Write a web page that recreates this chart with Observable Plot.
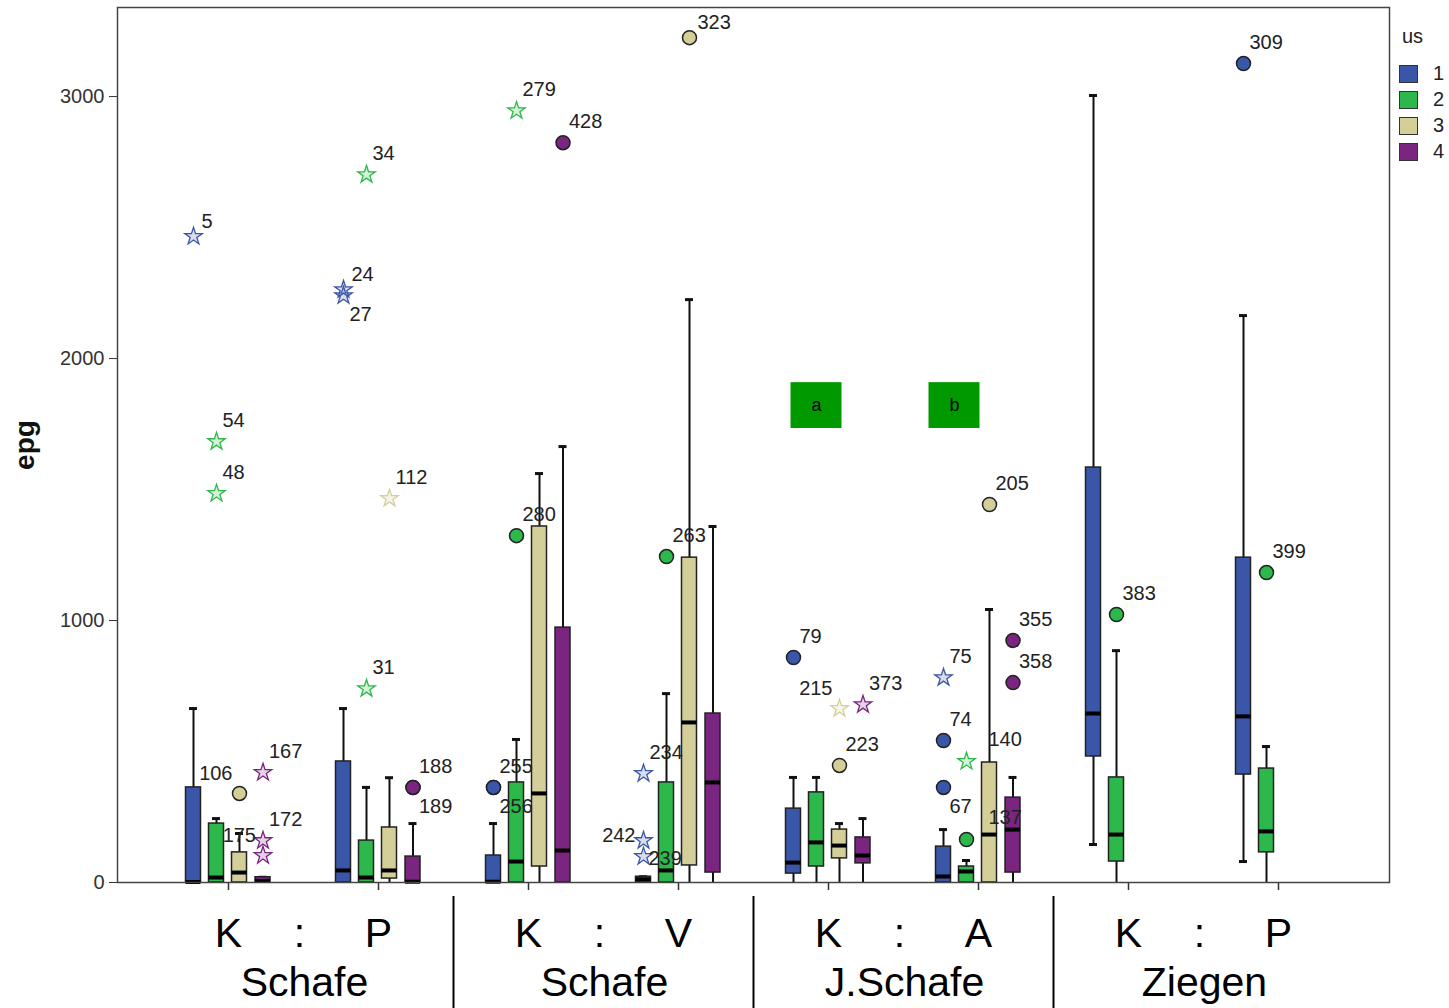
<!DOCTYPE html>
<html>
<head>
<meta charset="utf-8">
<script src="https://cdn.jsdelivr.net/npm/d3@7"></script>
<script src="https://cdn.jsdelivr.net/npm/@observablehq/plot@0.6"></script>
<style>
  body { margin: 0; background: #fff; font-family: Arial, "Liberation Sans", sans-serif; }
  #wrap { position: relative; width: 1449px; height: 1008px; }
  #legend { position: absolute; left: 1396px; top: 22px; color: #222; font-size: 20px; }
  #legend .title { position: absolute; left: 6px; top: 0; line-height: 28px; }
  #legend .item { position: absolute; left: 3px; width: 60px; height: 20px; }
  #legend .sw { position: absolute; left: 0; top: 0; width: 17px; height: 16px; border: 1.5px solid #333; }
  #legend .lb { position: absolute; left: 34px; top: -3px; line-height: 22px; }
</style>
</head>
<body>
<div id="wrap"></div>
<script>
// ---------- data ----------
const categories = ["S1-K", "S1-P", "S2-K", "S2-V", "J-K", "J-A", "Z-K", "Z-P"];
const categoryLabels = ["K", "P", "K", "V", "K", "A", "K", "P"];
const groupFirst = ["S1-K", "S2-K", "J-K", "Z-K"];
const groupNames = ["Schafe", "Schafe", "J.Schafe", "Ziegen"];
const separatorAfter = ["S1-P", "S2-V", "J-A"];
const usLevels = [1, 2, 3, 4];
const usColors = ["#3A56A8", "#2DB84B", "#D4CF98", "#7A2580"];
const yTicks = [0, 1000, 2000, 3000];

// box statistics (epg)
const boxCat = ["S1-K","S1-K","S1-K","S1-K","S1-P","S1-P","S1-P","S1-P",
                "S2-K","S2-K","S2-K","S2-K","S2-V","S2-V","S2-V","S2-V",
                "J-K","J-K","J-K","J-K","J-A","J-A","J-A","J-A",
                "Z-K","Z-K","Z-P","Z-P"];
const boxUs  = [1,2,3,4, 1,2,3,4, 1,2,3,4, 1,2,3,4, 1,2,3,4, 1,2,3,4, 1,2, 1,2];
const boxLow = [0,0,0,0, 0,0,0,0, 0,0,0,0, 0,0,0,0, 0,0,0,0, 0,0,0,0, 145,0, 80,0];
const boxQ1  = [0,0,0,0, 0,0,15,0, 0,0,61,0, 0,0,65,38, 34,61,92,73, 0,0,0,38, 481,80, 412,115];
const boxMed = [2,19,38,6, 46,19,46,3, 3,80,340,122, 12,46,611,382, 76,153,141,103, 23,42,183,202, 645,183, 634,195];
const boxQ3  = [363,225,115,20, 462,160,210,99, 103,382,1359,973, 22,382,1240,645, 282,344,202,172, 137,61,458,324, 1584,401, 1240,435];
const boxHigh= [664,244,187,20, 664,363,400,225, 225,546,1561,1664, 22,721,2225,1359, 401,401,225,244, 202,84,1042,401, 3004,885, 2164,519];

// outliers: "o" = outlier circle, "*" = extreme star
const outCat = ["S1-K","S1-K","S1-K","S1-K","S1-K","S1-K","S1-K",
                "S1-P","S1-P","S1-P","S1-P","S1-P","S1-P","S1-P",
                "S2-K","S2-K","S2-K","S2-K","S2-K",
                "S2-V","S2-V","S2-V","S2-V","S2-V",
                "J-K","J-K","J-K","J-K",
                "J-A","J-A","J-A","J-A","J-A","J-A","J-A","J-A",
                "Z-K","Z-P","Z-P"];
const outUs  = [1,2,2,3,4,4,4, 1,1,2,2,3,4,4, 1,1,2,2,4, 1,1,1,2,3, 1,3,3,4, 1,1,1,2,2,3,4,4, 2,1,2];
const outValue = [2466,1683,1485,340,420,160,103, 2263,2240,2702,740,1466,363,363,
                  363,363,1324,2946,2824, 416,160,99,1244,3225, 859,664,447,679,
                  782,542,363,462,164,1443,924,763, 1023,3126,1183];
const outId  = [5,54,48,106,167,172,175, 24,27,34,31,112,188,189, 255,256,280,279,428,
                234,242,239,263,323, 79,215,223,373, 75,74,67,140,137,205,355,358, 383,309,399];
const outKind = ["*","*","*","o","*","*","*", "*","*","*","*","*","o","o", "o","o","o","*","o",
                 "*","*","*","o","o", "o","*","o","*", "*","o","o","*","o","o","o","o", "o","o","o"];

// significance tags
const tagText = ["a", "b"];
const tagCat = ["J-K", "J-A"];
const tagLow = [1733, 1733];
const tagHigh = [1908, 1908];

// ---------- tables ----------
const boxes = boxCat.map((c, i) => ({cat: c, us: boxUs[i], lo: boxLow[i], q1: boxQ1[i], med: boxMed[i], q3: boxQ3[i], hi: boxHigh[i]}));
const outliers = outCat.map((c, i) => ({cat: c, us: outUs[i], value: outValue[i], id: outId[i], kind: outKind[i]}));
const tags = tagText.map((t, i) => ({text: t, cat: tagCat[i], lo: tagLow[i], hi: tagHigh[i], mid: (tagLow[i] + tagHigh[i]) / 2}));

// ---------- layout / style ----------
const usOffset = {1: -35, 2: -12, 3: 11, 4: 34.5};
const tagOffset = {"a": -12, "b": -24};
const half = 75;          // half of the category step
const boxInset = 67.5;    // -> 15px wide boxes
const capInset = 71;      // -> 8px wide whisker caps
const labelFont = 20;

const placements = [
  {ids: [106, 175, 215], dx: -7, dy: -20, anchor: "end"},
  {ids: [242], dx: -8, dy: -5, anchor: "end"},
  {ids: [27, 189, 256, 67], dx: 6, dy: 19, anchor: "start"},
  {ids: [239], dx: 5, dy: 2, anchor: "start"},
  {ids: [140, 137], dx: 22, dy: -22, anchor: "start"},
  {ids: [5, 24, 323], dx: 8, dy: -15, anchor: "start"}
];
const special = new Set(placements.flatMap(p => p.ids));
placements.push({ids: outId.filter(id => !special.has(id)), dx: 6, dy: -21, anchor: "start"});

const marks = [];

// bottom ticks
marks.push(Plot.ruleX(categories, {x: d => d, insetTop: 875, insetBottom: -8, stroke: "#333", strokeWidth: 1.5}));

usLevels.forEach((u, k) => {
  const o = usOffset[u];
  const col = usColors[k];
  const b = boxes.filter(d => d.us === u);
  marks.push(Plot.ruleX(b, {x: "cat", y1: "lo", y2: "hi", dx: o, stroke: "#111", strokeWidth: 2}));
  marks.push(Plot.tickY(b, {x: "cat", y: "hi", dx: o, insetLeft: capInset, insetRight: capInset, stroke: "#111", strokeWidth: 3}));
  marks.push(Plot.tickY(b.filter(d => d.lo > 0), {x: "cat", y: "lo", dx: o, insetLeft: capInset, insetRight: capInset, stroke: "#111", strokeWidth: 3}));
  marks.push(Plot.barY(b, {x: "cat", y1: "q1", y2: "q3", dx: o, insetLeft: boxInset, insetRight: boxInset, fill: col, stroke: "#222", strokeWidth: 1.5}));
  marks.push(Plot.tickY(b, {x: "cat", y: "med", dx: o, insetLeft: boxInset, insetRight: boxInset, stroke: "#000", strokeWidth: 4}));
});

usLevels.forEach((u, k) => {
  const o = usOffset[u];
  const col = usColors[k];
  const pts = outliers.filter(d => d.us === u);
  marks.push(Plot.dot(pts.filter(d => d.kind === "o"), {x: "cat", y: "value", dx: o, r: 7, fill: col, stroke: "#222", strokeWidth: 1.5}));
  marks.push(Plot.dot(pts.filter(d => d.kind === "*"), {x: "cat", y: "value", dx: o, r: 5.5, symbol: "star", fill: col, fillOpacity: 0.2, stroke: col, strokeWidth: 1.3}));
  placements.forEach(p => {
    const sel = pts.filter(d => p.ids.includes(d.id));
    if (sel.length) marks.push(Plot.text(sel, {x: "cat", y: "value", text: d => String(d.id), dx: o + p.dx, dy: p.dy, textAnchor: p.anchor, fontSize: labelFont, fill: "#222"}));
  });
});

// significance tags
tags.forEach(t => {
  marks.push(Plot.barY([t], {x: "cat", y1: "lo", y2: "hi", dx: tagOffset[t.text], insetLeft: 49.5, insetRight: 49.5, fill: "#009A00"}));
  marks.push(Plot.text([t], {x: "cat", y: "mid", text: "text", dx: tagOffset[t.text], fontSize: 18, fill: "#000"}));
});

marks.push(Plot.frame({stroke: "#444", strokeWidth: 1.5}));
marks.push(Plot.axisY({ticks: yTicks, tickSize: 8, tickPadding: 5, tickFormat: d => String(d), fontSize: 20, label: null, stroke: "#333", color: "#333"}));
marks.push(Plot.text(["epg"], {frameAnchor: "left", dx: -92, rotate: -90, textAnchor: "middle", text: d => d, fontWeight: "bold", fontSize: 28, fill: "#111"}));

// category labels, separators and group names below the axis
marks.push(Plot.text(categories, {x: d => d, text: (d, i) => categoryLabels[i], frameAnchor: "bottom", dy: 64, fontSize: 41, fill: "#000"}));
marks.push(Plot.text(groupFirst, {x: d => d, text: () => ":", dx: half - 4, frameAnchor: "bottom", dy: 64, fontSize: 41, fill: "#000"}));
marks.push(Plot.text(groupFirst, {x: d => d, text: (d, i) => groupNames[i], dx: half + 1, frameAnchor: "bottom", dy: 113, fontSize: 41, fill: "#000"}));
marks.push(Plot.ruleX(separatorAfter, {x: d => d, dx: half, insetTop: 889, insetBottom: -126, stroke: "#000", strokeWidth: 2}));

const plot = Plot.plot({
  width: 1449,
  height: 1008,
  marginLeft: 117,
  marginRight: 60,
  marginTop: 7,
  marginBottom: 126,
  style: {fontFamily: "Arial, 'Liberation Sans', sans-serif", background: "#fff", overflow: "visible"},
  x: {type: "band", domain: categories, paddingInner: 0, paddingOuter: 0.24, axis: null},
  y: {domain: [0, 3340], axis: null},
  marks
});

document.getElementById("wrap").appendChild(plot);

// legend
const lg = document.createElement("div");
lg.id = "legend";
let html = '<div class="title">us</div>';
usLevels.forEach((u, k) => {
  html += `<div class="item" style="top:${43 + k * 26}px"><div class="sw" style="background:${usColors[k]}"></div><div class="lb">${u}</div></div>`;
});
lg.innerHTML = html;
document.getElementById("wrap").appendChild(lg);
</script>
</body>
</html>
